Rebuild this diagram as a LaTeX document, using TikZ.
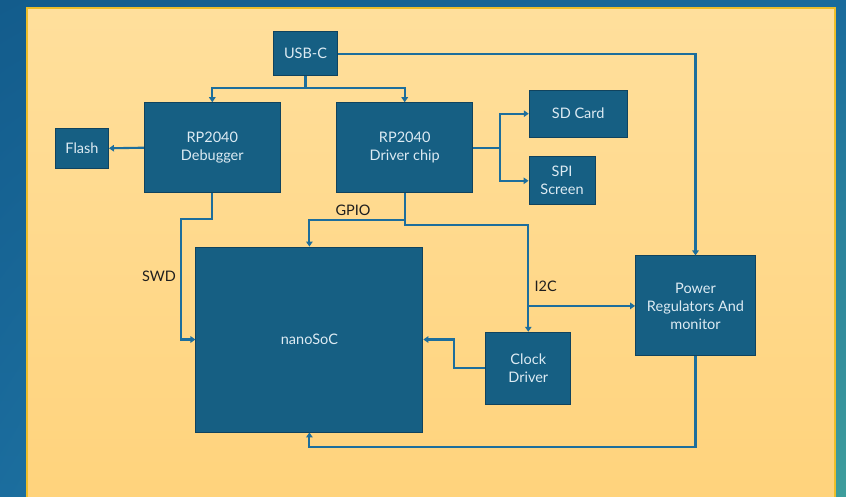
\documentclass[tikz,border=0pt]{standalone}
\usepackage{fontspec}
\setmainfont{Lato}
\usetikzlibrary{arrows.meta,shadings}

\definecolor{bgTL}{HTML}{135C8C}
\definecolor{bgTR}{HTML}{1A6B9C}
\definecolor{bgBL}{HTML}{1B6D9E}
\definecolor{bgBR}{HTML}{3E9E9C}
\definecolor{panelTop}{HTML}{FFDF9C}
\definecolor{panelBot}{HTML}{FFD37C}
\definecolor{panelEdge}{HTML}{EDBE2A}
\definecolor{boxBlue}{HTML}{165F83}
\definecolor{boxEdge}{HTML}{10435E}
\definecolor{boxText}{HTML}{DDEBF3}
\definecolor{wireBlue}{HTML}{1D6E9C}
\definecolor{labelText}{HTML}{1E1E1E}

\begin{document}
\begin{tikzpicture}[
    x=1pt, y=-1pt,
    blk/.style={draw=boxEdge, fill=boxBlue, text=boxText, line width=0.9pt,
      inner sep=0pt, align=center, font=\fontsize{14.5}{18}\selectfont},
    wire/.style={draw=wireBlue, line width=2.1pt},
    arr/.style={wire, -{Triangle[length=5pt,width=6.5pt]}},
    lbl/.style={text=labelText, font=\fontsize{14.5}{18}\selectfont}
]
  \useasboundingbox (0,0) rectangle (846,497);

  % Background and panel
  \shade[upper left=bgTL, upper right=bgTR, lower left=bgBL, lower right=bgBR] (0,0) rectangle (846,497);
  \shade[top color=panelTop, bottom color=panelBot] (27,8) rectangle (835,500);
  \draw[panelEdge, line width=1.5pt] (27,500) -- (27,8) -- (835,8) -- (835,500);

  % Blocks
  \node[blk, minimum width=64pt, minimum height=44pt] (usb) at (305.5,53.7) {USB-C};
  \node[blk, minimum width=136pt, minimum height=90pt] (dbg) at (212.3,147.7) {RP2040\\Debugger};
  \node[blk, minimum width=136pt, minimum height=90pt] (drv) at (404.7,147.7) {RP2040\\Driver chip};
  \node[blk, minimum width=53pt, minimum height=40pt] (flash) at (82,148.3) {Flash};
  \node[blk, minimum width=98pt, minimum height=47pt] (sd) at (578.2,113.7) {SD Card};
  \node[blk, minimum width=66pt, minimum height=48pt] (spi) at (562,180.8) {SPI\\Screen};
  \node[blk, minimum width=227pt, minimum height=185pt] (soc) at (309.4,339.5) {nanoSoC};
  \node[blk, minimum width=85pt, minimum height=72pt] (clk) at (528.3,368.2) {Clock\\Driver};
  \node[blk, minimum width=120pt, minimum height=100pt] (pwr) at (695.5,305.9) {Power\\Regulators And\\monitor};

  % Bend points
  \coordinate (split) at (305.5,87.7);
  \coordinate (fork) at (500,147.7);
  \coordinate (swd) at (180.7,219.3);
  \coordinate (gpio) at (404.7,220);
  \coordinate (bus) at (528.3,225);
  \coordinate (tap) at (528.3,305.9);
  \coordinate (clkbend) at (454,339.5);
  \coordinate (ret) at (695.5,446.7);

  % Connectors
  \draw[wire] (usb.south) -- (split);
  \draw[arr] (split) -| (dbg.north);
  \draw[arr] (split) -| (drv.north);
  \draw[arr] (usb.east) -| (pwr.north);
  \draw[arr] (dbg.west) -- (flash.east);
  \draw[wire] (drv.east) -- (fork);
  \draw[arr] (fork) |- (sd.west);
  \draw[arr] (fork) |- (spi.west);
  \draw[arr] (dbg.south) |- (swd) |- (soc.west);
  \draw[arr] (drv.south) -- (gpio) -| (soc.north);
  \draw[arr] (gpio) |- (bus) -- (clk.north);
  \draw[arr] (tap) -- (pwr.west);
  \draw[arr] (clk.west) -| (clkbend) -- (soc.east);
  \draw[arr] (pwr.south) -- (ret) -| (soc.south);

  % Signal labels
  \node[lbl] (swdlbl) at (159,276.7) {SWD};
  \node[lbl] (gpiolbl) at (353,210) {GPIO};
  \node[lbl] (i2clbl) at (545.7,286) {I2C};

\end{tikzpicture}
\end{document}
